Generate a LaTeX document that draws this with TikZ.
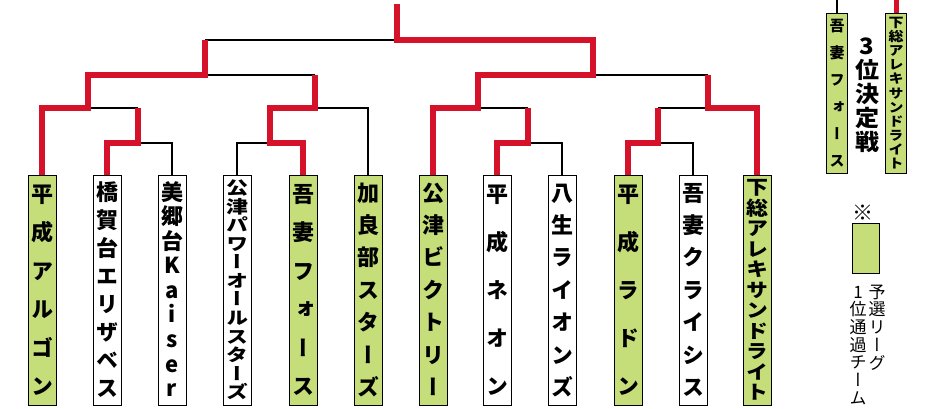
\documentclass[tikz,border=0pt]{standalone}
\usepackage{fontspec}
\usepackage{graphicx}
\newfontfamily\jp{Noto Sans CJK JP}[RawFeature=+vert]
\usetikzlibrary{backgrounds,positioning}
\definecolor{seedgreen}{RGB}{197,222,122}
\definecolor{winred}{RGB}{214,18,42}
\newcommand\tate[3][1]{\vbox to #2{\offinterlineskip\foreach[count=\k] \c in {#3}{\ifnum\k>1 \vfill\fi\hbox to 1.1em{\hss\scalebox{1}[#1]{\rule[-.12em]{0pt}{1em}\c}\hss}}}}
\begin{document}
\begin{tikzpicture}[x=1pt,y=-1pt,
  team/.style={draw, line width=.8pt, fill=white, minimum width=28pt, minimum height=230pt, inner sep=0pt, font=\jp\bfseries\fontsize{22}{22}\selectfont},
  seed/.style={team, fill=seedgreen},
  small/.style={draw, line width=.8pt, fill=seedgreen, minimum width=21pt, minimum height=160pt, inner sep=0pt, font=\jp\bfseries\fontsize{15}{15}\selectfont},
  note/.style={inner sep=0pt, font=\jp\fontsize{17}{17}\selectfont},
  win/.style={draw=winred, line width=6.5pt},
  lose/.style={line width=1.6pt}]
\useasboundingbox (0,0) rectangle (926,409);
\node[seed] (team1) at (42,290) {\tate{212pt}{平,成,ア,ル,ゴ,ン}};
\node[team] (team2) at (107,290) {\tate{216pt}{橋,賀,台,エ,リ,ザ,ベ,ス}};
\node[team] (team3) at (172,290) {\tate{216pt}{美,郷,台,K,a,i,s,e,r}};
\node[team] (team4) at (237,290) {\tate[.8]{220pt}{公,津,パ,ワ,ー,オ,ー,ル,ス,タ,ー,ズ}};
\node[seed] (team5) at (303,290) {\tate{212pt}{吾,妻,フ,ォ,ー,ス}};
\node[seed] (team6) at (368,290) {\tate{214pt}{加,良,部,ス,タ,ー,ズ}};
\node[seed] (team7) at (433,290) {\tate{214pt}{公,津,ビ,ク,ト,リ,ー}};
\node[team] (team8) at (497,290) {\tate{212pt}{平,成,ネ,オ,ン}};
\node[team] (team9) at (562,290) {\tate{214pt}{八,生,ラ,イ,オ,ン,ズ}};
\node[seed] (team10) at (628,290) {\tate{212pt}{平,成,ラ,ド,ン}};
\node[team] (team11) at (693,290) {\tate{214pt}{吾,妻,ク,ラ,イ,シ,ス}};
\node[seed] (team12) at (757,290) {\tate[.88]{222pt}{下,総,ア,レ,キ,サ,ン,ド,ラ,イ,ト}};
\coordinate (m1) at (138,143);
\coordinate (m1u) at (138,108);
\coordinate (m2) at (270,143);
\coordinate (m2u) at (270,108);
\coordinate (m3) at (88,108);
\coordinate (m3u) at (88,75);
\coordinate (m4) at (315,108);
\coordinate (m4u) at (315,75);
\coordinate (m5) at (205,75);
\coordinate (m5u) at (205,40);
\coordinate (m6) at (528,143);
\coordinate (m6u) at (528,108);
\coordinate (m7) at (658,143);
\coordinate (m7u) at (658,108);
\coordinate (m8) at (478,108);
\coordinate (m8u) at (478,75);
\coordinate (m9) at (708,108);
\coordinate (m9u) at (708,75);
\coordinate (m10) at (593,75);
\coordinate (m10u) at (593,40);
\coordinate (m11) at (397,40);
\coordinate (champ) at (397,4);
\node[small] (third1) at (837,93) {\tate{148pt}{吾,妻,フ,ォ,ー,ス}};
\node[small] (third2) at (896,93) {\tate[.88]{152pt}{下,総,ア,レ,キ,サ,ン,ド,ラ,イ,ト}};
\coordinate (q1) at (837,0);
\coordinate (q2) at (896,0);
\node[inner sep=0pt, font=\jp\bfseries\fontsize{24}{24}\selectfont] (third) at (867,94) {\tate[.94]{115pt}{3,位,決,定,戦}};
\node[note, font=\jp\fontsize{21}{21}\selectfont] (mark) at (863,213) {※};
\node[draw, line width=.8pt, fill=seedgreen, minimum width=27pt, minimum height=50pt, below=2pt of mark, xshift=3pt] (key) {};
\node[note, anchor=north] (key1) at (877,283) {\tate{86pt}{予,選,リ,ー,グ}};
\node[note, anchor=north] (key2) at (858,283) {\tate{121pt}{1,位,通,過,チ,ー,ム}};
\begin{pgfonlayer}{background}
\draw[lose] (team3.north) |- (m1);
\draw[lose] (team4.north) |- (m2);
\draw[lose] (m1u) -- (m3);
\draw[lose] (team6.north) |- (m4);
\draw[lose] (m4u) -- (m5);
\draw[lose] (team9.north) |- (m6);
\draw[lose] (team11.north) |- (m7);
\draw[lose] (m6u) -- (m8);
\draw[lose] (m7u) -- (m9);
\draw[lose] (m9u) -- (m10);
\draw[lose] (m5u) -- (m11);
\draw[lose] (q1) -- (third1.north);
\draw[win] (team2.north) |- (m1) -- (m1u);
\draw[win] (team5.north) |- (m2) |- (m4) -- (m4u);
\draw[win] (team1.north) |- (m3) |- (m5) -- (m5u);
\draw[win] (team8.north) |- (m6) -- (m6u);
\draw[win] (team10.north) |- (m7) -- (m7u);
\draw[win] (team12.north) |- (m9) -- (m9u);
\draw[win] (team7.north) |- (m8) |- (m10) |- (m11) -- (champ);
\draw[win, line width=5pt] (q2) -- (third2.north);
\end{pgfonlayer}
\end{tikzpicture}
\end{document}
